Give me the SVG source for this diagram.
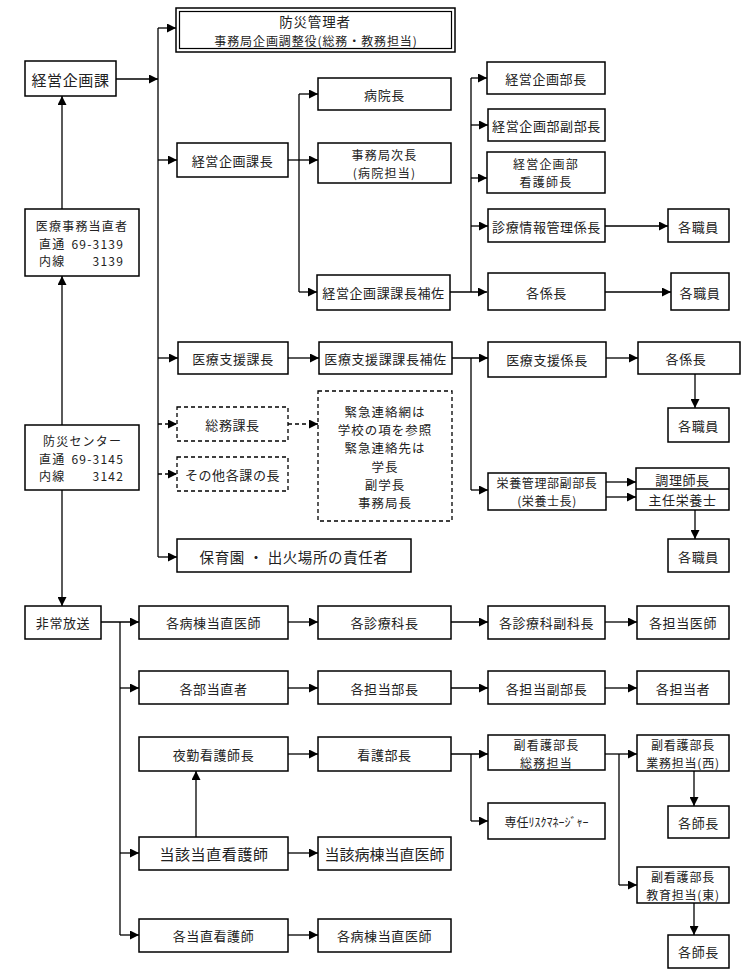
<svg xmlns="http://www.w3.org/2000/svg" width="744" height="979" viewBox="0 0 744 979">
<defs>
<marker id="ah" viewBox="0 0 10 10" refX="10" refY="5" markerWidth="9" markerHeight="9" markerUnits="userSpaceOnUse" orient="auto"><path d="M0,0 L10,5 L0,10 z" fill="#000"/></marker>
<style>
rect.b{fill:#fff;stroke:#000;stroke-width:1.5}
rect.d{fill:#fff;stroke:#000;stroke-width:1.3;stroke-dasharray:4,3}
text{font-family:"Noto Sans CJK JP","Noto Sans CJK SC",sans-serif;font-size:13px;fill:#222;text-anchor:middle;dominant-baseline:central;letter-spacing:0.6px}
text.l{font-size:15px}
text.m{font-size:12px;letter-spacing:1.2px}
.s{text-anchor:start}
.e{text-anchor:end}
#conn path{fill:none;stroke:#000;stroke-width:1.3}
#conn path.a{marker-end:url(#ah)}
#conn path.dash{stroke-dasharray:4,3}
</style>
</defs>
<rect width="744" height="979" fill="#fff"/>
<g id="conn">
<path class="a" d="M116,79 H158"/>
<path d="M158,28 V557"/>
<path class="a" d="M158,28 H176"/>
<path class="a" d="M158,160 H177"/>
<path class="a" d="M158,358 H178"/>
<path class="a dash" d="M158,424 H177"/>
<path class="a dash" d="M158,474 H177"/>
<path class="a" d="M158,557 H177"/>
<path class="a" d="M62,209 V96"/>
<path class="a" d="M62,425 V276"/>
<path class="a" d="M62,490 V606"/>
<path class="a" d="M288,160 H318"/>
<path d="M299,94 V292"/>
<path class="a" d="M299,94 H318"/>
<path class="a" d="M299,292 H317"/>
<path class="a" d="M450,292 H487"/>
<path d="M471,78 V292"/>
<path class="a" d="M471,78 H487"/>
<path class="a" d="M471,125 H488"/>
<path class="a" d="M471,178 H487"/>
<path class="a" d="M471,226 H488"/>
<path class="a" d="M605,226 H668"/>
<path class="a" d="M605,292 H671"/>
<path class="a" d="M288,358 H319"/>
<path class="a" d="M452,358 H488"/>
<path d="M471,358 V490"/>
<path class="a" d="M471,490 H488"/>
<path class="a" d="M606,358 H638"/>
<path class="a" d="M695,374 V408"/>
<path class="a dash" d="M288,424 H318"/>
<path class="a" d="M606,482 H636"/>
<path class="a" d="M606,497 H636"/>
<path class="a" d="M695,510 V539"/>
<path class="a" d="M101,622 H139"/>
<path d="M120,622 V935"/>
<path class="a" d="M120,688 H139"/>
<path class="a" d="M120,853 H139"/>
<path class="a" d="M120,935 H139"/>
<path class="a" d="M288,622 H318"/>
<path class="a" d="M451,622 H488"/>
<path class="a" d="M605,622 H637"/>
<path class="a" d="M288,688 H318"/>
<path class="a" d="M451,688 H488"/>
<path class="a" d="M605,688 H637"/>
<path class="a" d="M288,754 H318"/>
<path class="a" d="M451,754 H488"/>
<path d="M471,754 V821"/>
<path class="a" d="M471,821 H488"/>
<path class="a" d="M605,754 H637"/>
<path d="M619,754 V885"/>
<path class="a" d="M619,885 H637"/>
<path class="a" d="M694,771 V806"/>
<path class="a" d="M694,903 V935"/>
<path class="a" d="M196,837 V771"/>
<path class="a" d="M288,853 H318"/>
<path class="a" d="M288,935 H318"/>
</g>
<g id="n_bousai_kanri">
<rect class="b" x="176" y="8" width="279" height="44"/>
<rect x="179.5" y="11.5" width="272" height="37" fill="none" stroke="#000" stroke-width="1.2"/>
<text x="315" y="20.5" style="font-size:13.5px;letter-spacing:0.8px">防災管理者<tspan x="316" y="39.5" style="font-size:12px;letter-spacing:0.9px">事務局企画調整役(総務・教務担当)</tspan></text>
</g>
<g id="n_keiei_ka"><rect class="b" x="25" y="61" width="91" height="35"/><text class="l" x="70.5" y="79">経営企画課</text></g>
<g id="n_iryo_jimu"><rect class="b" x="25" y="209" width="114" height="67"/>
<text class="m" x="82" y="225">医療事務当直者<tspan class="s" x="39" y="242.5">直通</tspan><tspan class="e" x="124" y="242.5">69-3139</tspan><tspan class="s" x="39" y="260">内線</tspan><tspan class="e" x="124" y="260">3139</tspan></text></g>
<g id="n_bousai_center"><rect class="b" x="25" y="425" width="114" height="65"/>
<text class="m s" x="43" y="440">防災センター<tspan class="s" x="39" y="457.5">直通</tspan><tspan class="e" x="124" y="457.5">69-3145</tspan><tspan class="s" x="39" y="475">内線</tspan><tspan class="e" x="124" y="475">3142</tspan></text></g>
<g id="n_hijo"><rect class="b" x="25" y="606" width="76" height="33"/><text x="63" y="622">非常放送</text></g>
<g id="n_keiei_kacho"><rect class="b" x="177" y="143" width="111" height="34"/><text x="232.5" y="160">経営企画課長</text></g>
<g id="n_byoincho"><rect class="b" x="318" y="78" width="133" height="32"/><text x="384.5" y="94">病院長</text></g>
<g id="n_jimukyoku_jicho"><rect class="b" x="318" y="143" width="133" height="40"/><text class="m" x="384.5" y="154">事務局次長<tspan x="384.5" y="172">(病院担当)</tspan></text></g>
<g id="n_keiei_hosa"><rect class="b" x="317" y="275" width="133" height="35"/><text x="383.5" y="292">経営企画課課長補佐</text></g>
<g id="n_keiei_bucho"><rect class="b" x="487" y="62" width="118" height="32"/><text x="546" y="78">経営企画部長</text></g>
<g id="n_keiei_fukubucho"><rect class="b" x="488" y="109" width="117" height="32"/><text x="546.5" y="125">経営企画部副部長</text></g>
<g id="n_keiei_kangoshicho"><rect class="b" x="487" y="152" width="118" height="41"/><text class="m" x="546" y="163">経営企画部<tspan x="546" y="181">看護師長</tspan></text></g>
<g id="n_shinryo_joho"><rect class="b" x="488" y="209" width="117" height="33"/><text x="546.5" y="226">診療情報管理係長</text></g>
<g id="n_shokuin1"><rect class="b" x="668" y="209" width="61" height="33"/><text x="698.5" y="226">各職員</text></g>
<g id="n_kakakaricho1"><rect class="b" x="488" y="273" width="117" height="37"/><text x="546.5" y="292">各係長</text></g>
<g id="n_shokuin2"><rect class="b" x="671" y="273" width="58" height="37"/><text x="700" y="292">各職員</text></g>
<g id="n_iryo_shien_kacho"><rect class="b" x="178" y="342" width="110" height="32"/><text x="233" y="358">医療支援課長</text></g>
<g id="n_iryo_shien_hosa"><rect class="b" x="319" y="342" width="133" height="32"/><text x="385.5" y="358">医療支援課課長補佐</text></g>
<g id="n_iryo_shien_kakaricho"><rect class="b" x="488" y="342" width="118" height="35"/><text x="547" y="359">医療支援係長</text></g>
<g id="n_kakakaricho2"><rect class="b" x="638" y="342" width="102" height="32"/><text x="686" y="358">各係長</text></g>
<g id="n_shokuin3"><rect class="b" x="668" y="408" width="61" height="34"/><text x="698.5" y="425">各職員</text></g>
<g id="n_somu_kacho"><rect class="d" x="177" y="407" width="111" height="34"/><text x="232.5" y="424">総務課長</text></g>
<g id="n_sonota"><rect class="d" x="177" y="457" width="111" height="34"/><text x="232.5" y="474">その他各課の長</text></g>
<g id="n_kinkyu"><rect class="d" x="318" y="391" width="134" height="130"/>
<text x="385" y="411" style="font-size:12.5px;letter-spacing:1px">緊急連絡網は<tspan x="385" y="429.2">学校の項を参照</tspan><tspan x="385" y="447.4">緊急連絡先は</tspan><tspan x="385" y="465.6">学長</tspan><tspan x="385" y="483.8">副学長</tspan><tspan x="385" y="502">事務局長</tspan></text></g>
<g id="n_eiyo"><rect class="b" x="488" y="473" width="118" height="37"/><text class="m" x="547" y="482.5" style="letter-spacing:0.6px">栄養管理部副部長<tspan x="547" y="500">(栄養士長)</tspan></text></g>
<g id="n_chori"><rect class="b" x="636" y="468" width="93" height="42"/><line x1="636" y1="489" x2="729" y2="489" stroke="#000" stroke-width="1.3"/><text x="682.5" y="479">調理師長<tspan x="682.5" y="499">主任栄養士</tspan></text></g>
<g id="n_shokuin4"><rect class="b" x="668" y="539" width="61" height="33"/><text x="698.5" y="556">各職員</text></g>
<g id="n_hoikuen"><rect class="b" x="177" y="539" width="234" height="33"/><text class="l" x="294" y="556" style="font-size:14.5px">保育園 ・ 出火場所の責任者</text></g>
<g id="n_r1_1"><rect class="b" x="139" y="606" width="149" height="33"/><text x="213.5" y="622">各病棟当直医師</text></g>
<g id="n_r1_2"><rect class="b" x="318" y="606" width="133" height="33"/><text x="384.5" y="622">各診療科長</text></g>
<g id="n_r1_3"><rect class="b" x="488" y="606" width="117" height="33"/><text x="546.5" y="622">各診療科副科長</text></g>
<g id="n_r1_4"><rect class="b" x="637" y="606" width="92" height="33"/><text x="683" y="622">各担当医師</text></g>
<g id="n_r2_1"><rect class="b" x="139" y="671" width="149" height="33"/><text x="213.5" y="688">各部当直者</text></g>
<g id="n_r2_2"><rect class="b" x="318" y="671" width="133" height="33"/><text x="384.5" y="688">各担当部長</text></g>
<g id="n_r2_3"><rect class="b" x="488" y="671" width="117" height="33"/><text x="546.5" y="688">各担当副部長</text></g>
<g id="n_r2_4"><rect class="b" x="637" y="671" width="92" height="33"/><text x="683" y="688">各担当者</text></g>
<g id="n_yakin"><rect class="b" x="139" y="737" width="149" height="34"/><text x="213.5" y="754">夜勤看護師長</text></g>
<g id="n_kangobucho"><rect class="b" x="318" y="737" width="133" height="34"/><text x="384.5" y="754">看護部長</text></g>
<g id="n_fuku_somu"><rect class="b" x="488" y="735" width="117" height="35"/><text class="m" x="546.5" y="744">副看護部長<tspan x="546.5" y="761.5">総務担当</tspan></text></g>
<g id="n_fuku_nishi"><rect class="b" x="637" y="735" width="92" height="36"/><text class="m" x="683" y="744.5" style="letter-spacing:0.8px">副看護部長<tspan x="683" y="762">業務担当(西)</tspan></text></g>
<g id="n_shicho1"><rect class="b" x="668" y="806" width="61" height="32"/><text x="698.5" y="822">各師長</text></g>
<g id="n_risk"><rect class="b" x="488" y="803" width="117" height="36"/><text x="546.5" y="821" style="font-size:12px;letter-spacing:0">専任ﾘｽｸﾏﾈｰｼﾞｬｰ</text></g>
<g id="n_tougai"><rect class="b" x="139" y="837" width="149" height="33"/><text class="l" x="214" y="853">当該当直看護師</text></g>
<g id="n_tougai_ishi"><rect class="b" x="318" y="837" width="133" height="33"/><text class="l" x="384.5" y="853" style="letter-spacing:0">当該病棟当直医師</text></g>
<g id="n_fuku_higashi"><rect class="b" x="637" y="867" width="92" height="36"/><text class="m" x="683" y="876.5" style="letter-spacing:0.8px">副看護部長<tspan x="683" y="894">教育担当(東)</tspan></text></g>
<g id="n_shicho2"><rect class="b" x="668" y="935" width="61" height="33"/><text x="698.5" y="951">各師長</text></g>
<g id="n_kaku_tochoku"><rect class="b" x="139" y="919" width="149" height="33"/><text x="213.5" y="935">各当直看護師</text></g>
<g id="n_kaku_byoto"><rect class="b" x="318" y="919" width="133" height="33"/><text x="384.5" y="935">各病棟当直医師</text></g>
</svg>
